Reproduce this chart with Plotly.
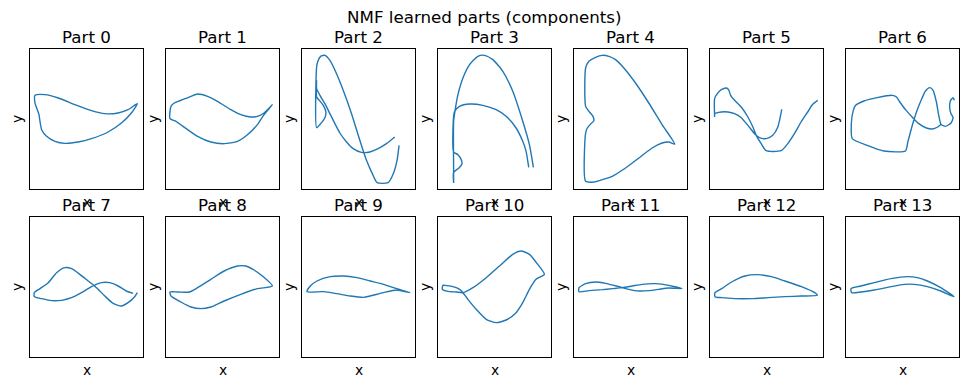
import plotly.graph_objects as go

# ---------------- data (x in 0..340, y in 0..420) ----------------
titles = ["Part %d" % i for i in range(14)]
suptitle = "NMF learned parts (components)"

part0_x = [15, 45, 85, 135, 185, 225, 265, 295, 323, 305, 275, 235, 185, 145, 105, 75, 50, 35, 30, 27, 20, 15, 15]
part0_y = [281, 283, 273, 253, 235, 226, 228, 238, 256, 228, 198, 171, 151, 141, 137, 143, 158, 178, 203, 223, 243, 258, 281]

part1_x = [320, 295, 275, 255, 225, 195, 155, 125, 95, 75, 50, 25, 15, 12, 12, 30, 65, 95, 135, 175, 215, 245, 275, 295, 320]
part1_y = [253, 228, 218, 216, 223, 238, 263, 278, 285, 278, 268, 258, 248, 233, 211, 203, 178, 158, 141, 136, 143, 163, 193, 223, 253]

part2_x = [292, 286, 274, 259, 226, 214, 194, 174, 149, 124, 104, 84, 69, 56, 47, 44, 44, 56, 69, 72, 64, 52, 44, 44, 44, 54, 69, 84, 99, 114, 134, 154, 179, 204, 229, 254, 279]
part2_y = [131, 86, 44, 19, 19, 41, 86, 146, 226, 296, 346, 386, 401, 398, 381, 366, 184, 196, 214, 231, 251, 266, 276, 326, 301, 281, 256, 226, 196, 168, 141, 121, 110, 111, 121, 136, 156]

part3_x = [273, 265, 255, 235, 205, 175, 135, 95, 65, 50, 47, 47, 60, 70, 72, 63, 47, 47, 47, 47, 51, 60, 75, 95, 120, 140, 165, 195, 225, 255, 275, 287]
part3_y = [65, 113, 143, 183, 218, 238, 251, 255, 248, 233, 218, 111, 103, 88, 75, 63, 50, 18, 53, 203, 233, 283, 333, 373, 398, 401, 388, 353, 293, 203, 133, 65]

part4_x = [35, 35, 40, 50, 60, 57, 45, 35, 35, 45, 65, 85, 105, 125, 150, 185, 225, 265, 303, 285, 265, 235, 195, 155, 115, 85, 60, 35]
part4_y = [23, 168, 183, 195, 205, 218, 233, 248, 363, 383, 395, 401, 398, 388, 363, 318, 258, 193, 135, 141, 138, 123, 93, 63, 38, 28, 21, 23]

part5_x = [216, 204, 189, 169, 149, 134, 114, 94, 74, 54, 34, 14, 14, 14, 22, 34, 49, 56, 62, 74, 94, 114, 129, 139, 154, 169, 214, 234, 254, 274, 294, 309, 324]
part5_y = [239, 186, 161, 151, 154, 166, 191, 214, 226, 231, 231, 226, 216, 271, 286, 298, 303, 298, 281, 266, 246, 216, 186, 161, 136, 115, 115, 136, 166, 201, 231, 254, 266]

part6_x = [326, 322, 314, 312, 316, 322, 316, 299, 286, 279, 272, 262, 252, 239, 226, 214, 204, 194, 186, 179, 114, 64, 19, 16, 22, 29, 54, 94, 139, 152, 162, 179, 199, 219, 242, 259, 276, 286]
part6_y = [266, 274, 264, 244, 226, 214, 198, 188, 194, 221, 261, 296, 304, 294, 266, 236, 206, 171, 141, 114, 114, 131, 151, 196, 236, 251, 264, 274, 281, 276, 261, 238, 216, 196, 183, 180, 186, 194]

part7_x = [310, 290, 265, 240, 215, 185, 155, 125, 95, 65, 35, 13, 13, 30, 55, 80, 105, 125, 150, 175, 200, 225, 250, 275, 295, 315, 323]
part7_y = [191, 198, 213, 223, 223, 211, 193, 178, 170, 169, 175, 181, 193, 205, 223, 253, 268, 265, 248, 228, 208, 183, 161, 153, 163, 181, 193]

part8_x = [12, 35, 70, 95, 135, 175, 215, 240, 265, 290, 320, 275, 225, 175, 135, 105, 75, 45, 15, 12]
part8_y = [195, 195, 195, 208, 233, 258, 273, 273, 261, 243, 213, 205, 188, 168, 150, 145, 150, 165, 183, 195]

part9_x = [15, 25, 45, 85, 125, 165, 205, 245, 285, 325, 285, 245, 205, 185, 145, 105, 65, 15]
part9_y = [196, 213, 228, 241, 243, 238, 228, 218, 205, 193, 201, 193, 183, 179, 183, 190, 196, 196]

part10_x = [15, 13, 30, 55, 75, 105, 145, 185, 225, 250, 275, 300, 320, 295, 275, 255, 235, 205, 175, 145, 115, 90, 75, 65, 45, 20, 15]
part10_y = [215, 203, 197, 195, 193, 208, 238, 273, 308, 318, 308, 278, 248, 233, 203, 163, 133, 111, 103, 113, 143, 173, 193, 203, 211, 215, 215]

part11_x = [15, 35, 65, 95, 135, 165, 195, 225, 255, 285, 325, 285, 245, 205, 175, 145, 115, 85, 45, 15, 15]
part11_y = [208, 220, 225, 221, 211, 203, 198, 199, 203, 207, 205, 215, 220, 218, 213, 208, 205, 202, 199, 196, 208]

part12_x = [15, 35, 65, 105, 145, 185, 225, 275, 315, 323, 275, 225, 175, 125, 75, 35, 15, 15]
part12_y = [193, 205, 225, 243, 247, 241, 228, 211, 193, 185, 183, 181, 178, 175, 175, 178, 181, 193]

part13_x = [15, 45, 85, 135, 185, 215, 245, 285, 325, 285, 245, 205, 175, 135, 85, 45, 17, 15]
part13_y = [205, 213, 223, 235, 241, 238, 228, 208, 181, 198, 211, 218, 218, 211, 201, 195, 193, 205]

parts = [
    (part0_x, part0_y), (part1_x, part1_y), (part2_x, part2_y), (part3_x, part3_y),
    (part4_x, part4_y), (part5_x, part5_y), (part6_x, part6_y), (part7_x, part7_y),
    (part8_x, part8_y), (part9_x, part9_y), (part10_x, part10_y), (part11_x, part11_y),
    (part12_x, part12_y), (part13_x, part13_y),
]

# ---------------- layout ----------------
W, H = 969, 387
col_left = [30, 166, 302, 438, 574, 710, 846]
box_w = 113
row_top = [49, 217]
box_h = 140
FONT = "DejaVu Sans"

fig = go.Figure()
annotations = []
layout_axes = {}

for i, (px, py) in enumerate(parts):
    r, c = divmod(i, 7)
    n = i + 1
    xa = "x" if n == 1 else "x%d" % n
    ya = "y" if n == 1 else "y%d" % n
    xkey = "xaxis" if n == 1 else "xaxis%d" % n
    ykey = "yaxis" if n == 1 else "yaxis%d" % n
    x0 = col_left[c] / W
    x1 = (col_left[c] + box_w) / W
    y1 = 1 - row_top[r] / H
    y0 = 1 - (row_top[r] + box_h) / H
    fig.add_trace(go.Scatter(
        x=px, y=py, mode="lines", xaxis=xa, yaxis=ya,
        line=dict(color="#1f77b4", width=1.4, shape="spline", smoothing=0.6),
        showlegend=False, hoverinfo="skip",
    ))
    common = dict(showgrid=False, zeroline=False, showticklabels=False, ticks="",
                  showline=True, linecolor="black", linewidth=1, mirror=True,
                  fixedrange=True)
    layout_axes[xkey] = dict(domain=[x0, x1], range=[0, 340], anchor=ya, **common)
    layout_axes[ykey] = dict(domain=[y0, y1], range=[0, 420], anchor=xa, **common)

    cx = (col_left[c] + box_w / 2) / W
    # subplot title
    annotations.append(dict(text=titles[i], x=cx, y=1 - (row_top[r] - 12) / H,
                            xref="paper", yref="paper", showarrow=False,
                            xanchor="center", yanchor="middle",
                            font=dict(family=FONT, size=16.7, color="black")))
    # x label
    annotations.append(dict(text="x", x=cx, y=1 - (row_top[r] + box_h + 13) / H,
                            xref="paper", yref="paper", showarrow=False,
                            xanchor="center", yanchor="middle",
                            font=dict(family=FONT, size=13.9, color="black")))
    # y label
    annotations.append(dict(text="y", x=(col_left[c] - 13) / W,
                            y=1 - (row_top[r] + box_h / 2) / H,
                            xref="paper", yref="paper", showarrow=False, textangle=-90,
                            xanchor="center", yanchor="middle",
                            font=dict(family=FONT, size=13.9, color="black")))

annotations.append(dict(text=suptitle, x=0.5, y=1 - 17 / H, xref="paper", yref="paper",
                        showarrow=False, xanchor="center", yanchor="middle",
                        font=dict(family=FONT, size=16.7, color="black")))

fig.update_layout(
    width=W, height=H, margin=dict(l=0, r=0, t=0, b=0),
    paper_bgcolor="white", plot_bgcolor="white",
    annotations=annotations, **layout_axes,
)

fig.write_html("out.html", config={"displayModeBar": False},
               post_script="document.body.style.margin='0';document.body.style.padding='0';")
